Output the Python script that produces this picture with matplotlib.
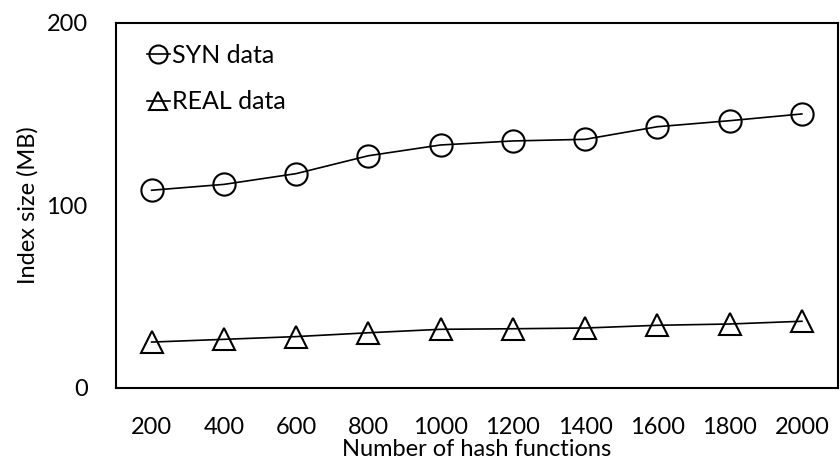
import matplotlib
matplotlib.use("Agg")
import matplotlib.pyplot as plt
import numpy as np

plt.rcParams['font.family'] = ['Lato', 'DejaVu Sans']

categories = ["200", "400", "600", "800", "1000", "1200", "1400", "1600", "1800", "2000"]
syn_data = [108.2, 111.4, 117.3, 127.1, 133.0, 135.2, 136.1, 143.0, 146.3, 150.0]
real_data = [25.0, 26.5, 28.0, 30.1, 32.0, 32.3, 32.7, 34.2, 34.9, 36.4]
y_ticks = [0, 100, 200]

fig = plt.figure(figsize=(8.4, 4.68), dpi=100)
ax = fig.add_axes([115.5/840, 1 - 387.7/468, (838 - 115.5)/840, (387.7 - 22.7)/468])

x = np.arange(len(categories))
ax.plot(x, syn_data, color='black', lw=1.2, marker='o', ms=16, mfc='none', mec='black', mew=1.5, label='SYN data')
ax.plot(x, real_data, color='black', lw=1.2, marker='^', ms=16, mfc='none', mec='black', mew=1.5, label='REAL data')

ax.set_xlim(-0.5, len(categories) - 0.5)
ax.set_ylim(0, 200)
ax.set_xticks(x)
ax.set_xticklabels(categories)
ax.set_yticks(y_ticks)
ax.tick_params(axis='both', length=0, labelsize=17)
ax.tick_params(axis='x', pad=21)
ax.tick_params(axis='y', pad=20)
for s in ax.spines.values():
    s.set_linewidth(1.5)

ax.set_xlabel("Number of hash functions", fontsize=17, labelpad=1)
ax.set_ylabel("Index size (MB)", fontsize=17, labelpad=6)

leg = ax.legend(loc='upper left', frameon=False, fontsize=18, handlelength=0.9, handletextpad=0.1,
                labelspacing=0.95, bbox_to_anchor=(0.03, 0.97), borderaxespad=0.0)
for h in leg.legend_handles:
    h.set_markersize(13)

fig.savefig("out.png", dpi=100)
